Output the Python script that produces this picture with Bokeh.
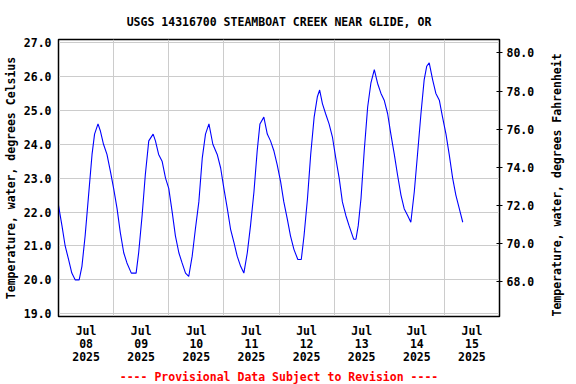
import math
import pandas as pd
from bokeh.plotting import figure
from bokeh.models import (Range1d, LinearAxis, FixedTicker, DatetimeTickFormatter,
                          PrintfTickFormatter, Title)
from bokeh.embed import file_html
from bokeh.resources import INLINE

# ---- data ----
start_time = "2025-07-08 00:00"
end_time = "2025-07-16 00:00"
hours_since_start = [
    0.0, 1.5, 2.9, 4.4, 5.8, 7.3, 9.0, 10.2, 11.6, 13.1, 14.6, 15.7, 17.2, 18.2, 19.6, 21.1, 22.6,
    24.0, 25.5, 26.9, 28.4, 29.8, 31.7, 33.8, 34.9, 36.4, 37.8, 39.3, 41.2, 42.2, 43.6, 45.1, 46.6,
    48.0, 49.5, 50.9, 52.4, 53.8, 55.3, 56.7, 58.2, 59.6, 61.1, 62.6, 64.0, 65.5, 67.2, 69.1, 70.6,
    72.0, 73.5, 74.9, 76.4, 77.8, 79.3, 80.7, 82.2, 83.6, 85.1, 86.5, 87.7, 89.4, 90.9, 92.3, 93.8, 95.2,
    96.7, 98.1, 99.6, 101.0, 102.5, 104.2, 105.7, 106.9, 108.4, 109.8, 111.3, 112.7, 113.7, 114.9,
    116.3, 117.8, 119.3, 120.7,
    122.2, 123.6, 125.1, 126.5, 128.5, 129.5, 130.5, 131.7, 133.1, 134.6, 136.0, 137.5, 138.9, 140.4,
    141.8, 143.3, 144.7,
    146.2, 147.6, 149.1, 150.5, 152.0, 153.4, 154.9, 156.3, 157.8, 159.2, 160.3, 161.4, 162.9, 164.3,
    165.8, 167.2,
    168.7, 170.1, 171.6, 173.0, 174.5, 176.0,
]
temp_c = [
    22.2, 21.6, 21.0, 20.6, 20.2, 20.0, 20.0, 20.4, 21.3, 22.5, 23.7, 24.3, 24.6, 24.4, 24.0, 23.7, 23.2,
    22.7, 22.1, 21.4, 20.8, 20.5, 20.2, 20.2, 20.8, 21.9, 23.1, 24.1, 24.3, 24.1, 23.7, 23.5, 23.0,
    22.7, 22.0, 21.3, 20.8, 20.5, 20.2, 20.1, 20.7, 21.5, 22.3, 23.6, 24.3, 24.6, 24.0, 23.7, 23.3,
    22.7, 22.1, 21.5, 21.1, 20.7, 20.4, 20.2, 20.8, 21.6, 22.6, 23.8, 24.6, 24.8, 24.3, 24.1, 23.8, 23.4,
    22.9, 22.3, 21.8, 21.3, 20.9, 20.6, 20.6, 21.3, 22.4, 23.7, 24.8, 25.4, 25.6, 25.2,
    24.9, 24.6, 24.2, 23.6,
    23.0, 22.3, 21.9, 21.6, 21.2, 21.2, 21.6, 22.4, 23.8, 25.1, 25.8, 26.2, 25.8, 25.5,
    25.3, 24.9, 24.3,
    23.7, 23.1, 22.5, 22.1, 21.9, 21.7, 22.6, 23.7, 24.9, 25.9, 26.3, 26.4, 25.9, 25.5,
    25.3, 24.8,
    24.3, 23.7, 23.0, 22.5, 22.1, 21.7,
]
tick_labels_at = ["2025-07-08 12:00", "2025-07-09 12:00", "2025-07-10 12:00", "2025-07-11 12:00",
                  "2025-07-12 12:00", "2025-07-13 12:00", "2025-07-14 12:00", "2025-07-15 12:00"]
grid_days = ["2025-07-09", "2025-07-10", "2025-07-11", "2025-07-12",
             "2025-07-13", "2025-07-14", "2025-07-15"]
celsius_ticks = [19, 20, 21, 22, 23, 24, 25, 26, 27]
fahrenheit_ticks = [68, 70, 72, 74, 76, 78, 80]
title_text = "USGS 14316700 STEAMBOAT CREEK NEAR GLIDE, OR"
footer_text = "---- Provisional Data Subject to Revision ----"
left_label = "Temperature, water, degrees Celsius"
right_label = "Temperature, water, degrees Fahrenheit"

# ---- build ----
def ms(s):
    return pd.Timestamp(s).value / 1e6

t0 = pd.Timestamp(start_time)
times = [t0 + pd.Timedelta(hours=h) for h in hours_since_start]

FONT = "DejaVu Sans Mono"
FS = "11.5px"

p = figure(frame_width=441, frame_height=277, x_axis_type="datetime",
           x_range=Range1d(ms(start_time), ms(end_time)),
           y_range=Range1d(18.92, 27.09),
           output_backend="svg", toolbar_location=None,
           min_border_left=58, min_border_right=77, min_border_top=39, min_border_bottom=68)
p.extra_y_ranges = {"f": Range1d(66.18, 80.70)}

p.background_fill_color = "white"
p.border_fill_color = "white"
p.outline_line_color = "black"
p.outline_line_width = 1.5

p.title.text = title_text
p.title.align = "center"
p.title.text_color = "black"
p.title.text_font = FONT
p.title.text_font_style = "bold"
p.title.text_font_size = FS
p.title.standoff = 22

p.line(times, temp_c, line_color="#0000ff", line_width=1.1)

# x axis
xa = p.xaxis[0]
xa.ticker = FixedTicker(ticks=[ms(s) for s in tick_labels_at])
fmt = "%b\n%d\n%Y"
xa.formatter = DatetimeTickFormatter(days=fmt, hours=fmt, months=fmt, hourmin=fmt, minutes=fmt,
                                     minsec=fmt, seconds=fmt, milliseconds=fmt,
                                     microseconds=fmt, years=fmt)
xa.major_tick_in = 0
xa.major_tick_out = 0
xa.minor_tick_in = 0
xa.minor_tick_out = 0
xa.major_label_text_font = FONT
xa.major_label_text_font_style = "bold"
xa.major_label_text_font_size = FS
xa.major_label_text_color = "black"
xa.major_label_text_line_height = 0.95
xa.major_label_standoff = 7
xa.axis_line_color = "black"

p.xgrid.ticker = FixedTicker(ticks=[ms(s) for s in grid_days])
p.xgrid.grid_line_color = "#cccccc"
p.ygrid.grid_line_color = "#cccccc"

# left axis
ya = p.yaxis[0]
ya.ticker = FixedTicker(ticks=celsius_ticks)
ya.formatter = PrintfTickFormatter(format="%.1f")
ya.major_tick_in = 0
ya.major_tick_out = 0
ya.minor_tick_in = 0
ya.minor_tick_out = 0
ya.major_label_text_font = FONT
ya.major_label_text_font_style = "bold"
ya.major_label_text_font_size = FS
ya.major_label_text_color = "black"
ya.major_label_standoff = 7
ya.axis_label = left_label
ya.axis_label_text_color = "black"
ya.axis_label_text_font = FONT
ya.axis_label_text_font_style = "bold"
ya.axis_label_text_font_size = FS
ya.axis_label_standoff = 3
ya.axis_line_color = "black"

# right axis
ra = LinearAxis(y_range_name="f", ticker=FixedTicker(ticks=fahrenheit_ticks),
                formatter=PrintfTickFormatter(format="%.1f"))
ra.major_tick_in = 3
ra.major_tick_out = 3
ra.minor_tick_in = 0
ra.minor_tick_out = 0
ra.major_label_text_font = FONT
ra.major_label_text_font_style = "bold"
ra.major_label_text_font_size = FS
ra.major_label_text_color = "black"
ra.major_label_standoff = 4
ra.axis_label = right_label
ra.axis_label_text_color = "black"
ra.axis_label_text_font = FONT
ra.axis_label_text_font_style = "bold"
ra.axis_label_text_font_size = FS
ra.axis_label_standoff = 20
ra.axis_label_orientation = math.pi / 2
ra.axis_label_text_baseline = "middle"
try:
    ra.axis_label_align = "start"
except AttributeError:
    ra.axis_label_text_align = "center"
ra.axis_line_color = "black"
p.add_layout(ra, "right")

foot = Title(text=footer_text, align="center", text_color="red", text_font=FONT,
             text_font_style="bold", text_font_size=FS, standoff=0)
p.add_layout(foot, "below")

open("out.html", "w").write(file_html(p, INLINE))
